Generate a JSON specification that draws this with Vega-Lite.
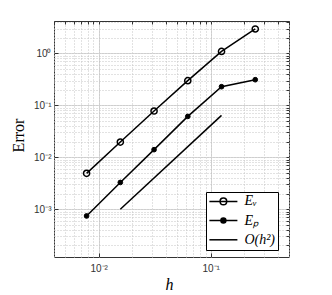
{
  "$schema": "https://vega.github.io/schema/vega-lite/v6.json",
  "width": 235,
  "height": 236,
  "autosize": "none",
  "padding": {"left": 54, "top": 21, "right": 43, "bottom": 38},
  "background": "white",
  "config": {
    "view": {"stroke": "#333333", "strokeWidth": 1},
    "axis": {"domain": false}
  },
  "data": {
    "values": [
      {"series": "Ev", "h": 0.0078125, "err": 0.0049},
      {"series": "Ev", "h": 0.015625, "err": 0.0196},
      {"series": "Ev", "h": 0.03125, "err": 0.0776},
      {"series": "Ev", "h": 0.0625, "err": 0.298},
      {"series": "Ev", "h": 0.125, "err": 1.09},
      {"series": "Ev", "h": 0.25, "err": 2.95},
      {"series": "Ep", "h": 0.0078125, "err": 0.00074},
      {"series": "Ep", "h": 0.015625, "err": 0.00327},
      {"series": "Ep", "h": 0.03125, "err": 0.014},
      {"series": "Ep", "h": 0.0625, "err": 0.0611},
      {"series": "Ep", "h": 0.125, "err": 0.228},
      {"series": "Ep", "h": 0.25, "err": 0.311},
      {"series": "O", "h": 0.015625, "err": 0.001},
      {"series": "O", "h": 0.125, "err": 0.064}
    ]
  },
  "layer": [
    {
      "mark": {"type": "line", "strokeWidth": 1.5},
      "encoding": {
        "x": {
          "field": "h", "type": "quantitative",
          "scale": {"type": "log", "domain": [0.004, 0.5], "nice": false},
          "axis": {
            "orient": "bottom", "values": [0.01, 0.1], "ticks": true, "tickSize": -4, "tickColor": "#333333",
            "grid": true, "gridColor": "#d8d8d8", "gridWidth": 1,
            "labelExpr": "datum.value < 0.05 ? '10⁻²' : '10⁻¹'",
            "labelFont": "Liberation Sans", "labelFontSize": 10, "labelColor": "#333333", "labelPadding": 10,
            "title": "h", "titleFont": "Liberation Serif", "titleFontStyle": "italic", "titleFontWeight": "normal",
            "titleFontSize": 16, "titleColor": "black", "titleX": 115, "titleY": 27, "titleBaseline": "middle", "titleAlign": "center"
          }
        },
        "y": {
          "field": "err", "type": "quantitative",
          "scale": {"type": "log", "domain": [0.00012, 4.2], "nice": false},
          "axis": {
            "orient": "left", "values": [0.001, 0.01, 0.1, 1], "ticks": true, "tickSize": -4, "tickColor": "#333333",
            "grid": true, "gridColor": "#d8d8d8", "gridWidth": 1,
            "labelExpr": "datum.value >= 0.5 ? '10⁰' : datum.value >= 0.05 ? '10⁻¹' : datum.value >= 0.005 ? '10⁻²' : '10⁻³'",
            "labelFont": "Liberation Sans", "labelFontSize": 10, "labelColor": "#333333", "labelPadding": 7,
            "title": "Error", "titleFont": "Liberation Serif", "titleFontWeight": "normal",
            "titleFontSize": 16, "titleColor": "black", "titleX": -36, "titleY": 114, "titleBaseline": "middle", "titleAlign": "center", "titleAngle": 270
          }
        },
        "color": {
          "field": "series", "type": "nominal",
          "scale": {"domain": ["Ev", "Ep", "O"], "range": ["black", "black", "black"]},
          "legend": {
            "orient": "none", "legendX": 152, "legendY": 171, "columns": 1,
            "title": null, "strokeColor": "black", "fillColor": "white", "padding": 2.4, "rowPadding": 5.2,
            "labelFont": "Liberation Serif", "labelFontStyle": "italic", "labelFontSize": 14, "labelColor": "black",
            "labelExpr": "datum.value == 'Ev' ? 'Eᵥ' : datum.value == 'Ep' ? 'Eₚ' : 'O(h²)'",
            "symbolSize": 100, "symbolStrokeWidth": 1.5, "symbolOffset": 8, "labelOffset": 14, "cornerRadius": 0,
            "encode": {
              "symbols": {
                "update": {
                  "shape": {"signal": "datum.value == 'Ev' ? 'M-2.8,0H2.8M-0.66,0A0.66,0.66,0,1,0,0.66,0A0.66,0.66,0,1,0,-0.66,0' : datum.value == 'Ep' ? 'M-2.8,0H2.8M-0.5,0A0.5,0.5,0,1,0,0.5,0A0.5,0.5,0,1,0,-0.5,0' : 'M-2.8,0H2.8'"},
                  "fill": {"signal": "datum.value == 'Ep' ? 'black' : 'transparent'"},
                  "stroke": {"value": "black"},
                  "strokeWidth": {"value": 1.5},
                  "opacity": {"value": 1}
                }
              }
            }
          }
        }
      }
    },
    {
      "transform": [{"filter": "datum.series == 'Ev'"}],
      "mark": {"type": "point", "shape": "circle", "size": 38, "stroke": "black", "strokeWidth": 1.5, "fill": "transparent", "opacity": 1},
      "encoding": {
        "x": {
          "field": "h", "type": "quantitative",
          "axis": {
            "orient": "top", "labels": false, "title": null, "domain": false,
            "values": [0.004, 0.005, 0.006, 0.007, 0.008, 0.009, 0.01, 0.02, 0.03, 0.04, 0.05, 0.06, 0.07, 0.08, 0.09, 0.1, 0.2, 0.3, 0.4, 0.5],
            "ticks": true, "tickSize": -3, "tickColor": "#333333",
            "grid": true, "gridColor": "#c4c4c4", "gridDash": [1, 2], "gridWidth": 1
          }
        },
        "y": {
          "field": "err", "type": "quantitative",
          "axis": {
            "orient": "right", "labels": false, "title": null, "domain": false,
            "values": [0.0002, 0.0003, 0.0004, 0.0005, 0.0006, 0.0007, 0.0008, 0.0009, 0.001, 0.002, 0.003, 0.004, 0.005, 0.006, 0.007, 0.008, 0.009, 0.01, 0.02, 0.03, 0.04, 0.05, 0.06, 0.07, 0.08, 0.09, 0.1, 0.2, 0.3, 0.4, 0.5, 0.6, 0.7, 0.8, 0.9, 1, 2, 3, 4],
            "ticks": true, "tickSize": -3, "tickColor": "#333333",
            "grid": true, "gridColor": "#c4c4c4", "gridDash": [1, 2], "gridWidth": 1
          }
        }
      }
    },
    {
      "transform": [{"filter": "datum.series == 'Ep'"}],
      "mark": {"type": "point", "shape": "circle", "size": 22, "stroke": "black", "strokeWidth": 1, "fill": "black", "filled": true, "opacity": 1},
      "encoding": {
        "x": {"field": "h", "type": "quantitative", "axis": null},
        "y": {"field": "err", "type": "quantitative", "axis": null}
      }
    }
  ],
  "resolve": {"axis": {"x": "independent", "y": "independent"}}
}
